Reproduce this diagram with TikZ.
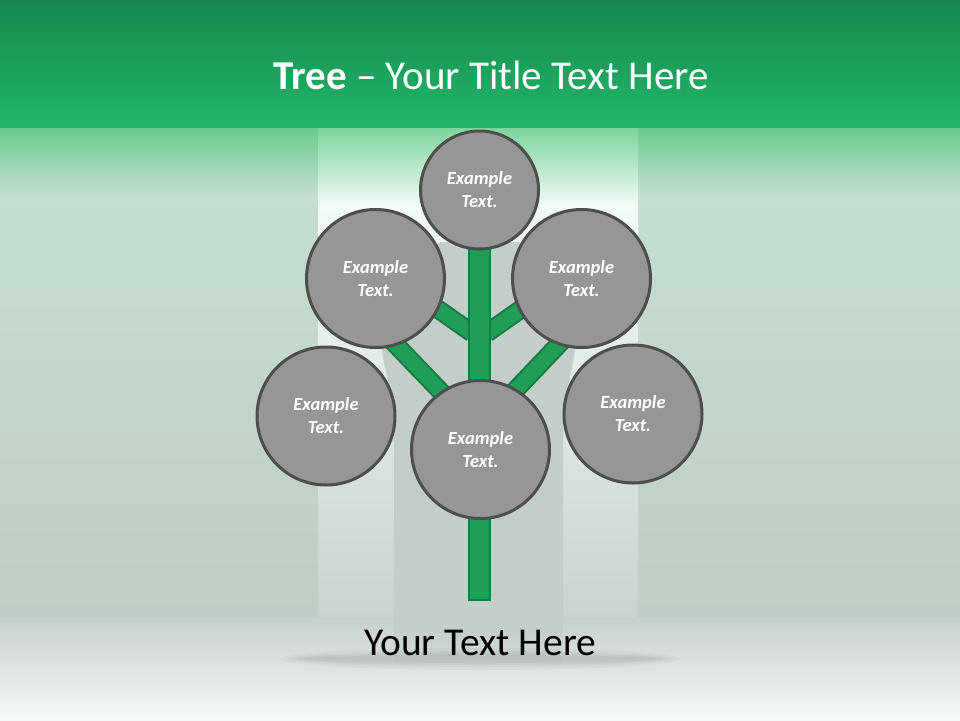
\documentclass[tikz,border=0pt]{standalone}
\usepackage{fontspec}
\setmainfont{Carlito}
\usetikzlibrary{fadings}
\definecolor{hdrtop}{RGB}{22,136,78}
\definecolor{hdrbot}{RGB}{34,182,106}
\definecolor{sidegreen}{RGB}{105,203,142}
\definecolor{sidetop}{RGB}{196,222,208}
\definecolor{sidebot}{RGB}{192,205,197}
\definecolor{midgreen}{RGB}{125,213,157}
\definecolor{midtop}{RGB}{242,250,245}
\definecolor{midbot}{RGB}{202,212,206}
\definecolor{bandtop}{RGB}{200,208,203}
\definecolor{bandbot}{RGB}{244,250,246}
\definecolor{trunkgray}{RGB}{196,205,199}
\definecolor{brgreen}{RGB}{31,158,88}
\definecolor{brdark}{RGB}{21,122,67}
\definecolor{bubblefill}{RGB}{150,150,150}
\definecolor{bubbleline}{RGB}{78,78,78}
\tikzfading[name=fadedown, top color=transparent!0, bottom color=transparent!100]
\tikzset{
  bubble/.style={circle, fill=bubblefill, draw=bubbleline, line width=3pt,
    inner sep=0pt, align=center, text=white,
    font=\fontsize{18.5}{23}\selectfont\bfseries\itshape},
  branch/.style={draw=brdark, line width=2pt, double=brgreen, double distance=15pt},
  trunkbox/.style={fill=brgreen, draw=brdark, line width=2pt}
}
\begin{document}
\begin{tikzpicture}[x=1pt,y=-1pt]
\useasboundingbox (0,0) rectangle (960,720);
% header
\shade[top color=hdrtop, bottom color=hdrbot] (0,0) rectangle (960,128);
% side panels
\shade[top color=sidegreen, bottom color=sidetop] (0,128) rectangle (318,195);
\shade[top color=sidegreen, bottom color=sidetop] (638,128) rectangle (960,195);
\shade[top color=sidetop, bottom color=sidebot] (0,195) rectangle (318,617);
\shade[top color=sidetop, bottom color=sidebot] (638,195) rectangle (960,617);
% center panel
\shade[top color=midgreen, bottom color=midtop] (318,128) rectangle (638,205);
\shade[top color=midtop, bottom color=midbot] (318,205) rectangle (638,617);
% bottom band
\shade[top color=bandtop, bottom color=bandbot] (0,617) rectangle (960,720);
% trunk shadow
\fill[trunkgray] (440,242) -- (376,300) .. controls (379,360) and (394,390) .. (394,430)
  -- (394,617) -- (563,617) -- (563,430) .. controls (563,390) and (578,360) .. (581,300)
  -- (519,242) -- cycle;
\fill[trunkgray, path fading=fadedown] (394,617) rectangle (563,664);
% ground shadow
\foreach \rx/\ry in {200/11,192/8,184/6,176/4}
  \fill[black, opacity=0.03] (480,659) ellipse [x radius=\rx, y radius=\ry];
% title
\node[font=\fontsize{41}{48}\selectfont, text=white] (title) at (491,75)
  {\textbf{Tree} -- Your Title Text Here};
% branch coordinates
\coordinate (ulA) at (472,333);
\coordinate (ulB) at (425,300);
\coordinate (urA) at (487,333);
\coordinate (urB) at (534,300);
\coordinate (llA) at (372,320);
\coordinate (llB) at (448,399);
\coordinate (lrA) at (582,320);
\coordinate (lrB) at (506,400);
\draw[branch] (ulA) -- (ulB);
\draw[branch] (urA) -- (urB);
\draw[branch] (llA) -- (llB);
\draw[branch] (lrA) -- (lrB);
% trunk
\draw[trunkbox] (469,240) rectangle (490,600);
% bubbles
\node[bubble, minimum size=118pt] (top) at (479.5,190) {Example\\Text.};
\node[bubble, minimum size=138pt] (ul) at (375.5,278.5) {Example\\Text.};
\node[bubble, minimum size=138pt] (ur) at (581.5,278.5) {Example\\Text.};
\node[bubble, minimum size=138pt] (ll) at (326,416) {Example\\Text.};
\node[bubble, minimum size=138pt] (lr) at (633,414) {Example\\Text.};
\node[bubble, minimum size=138pt] (mid) at (480.5,449.5) {Example\\Text.};
% bottom text
\node[font=\fontsize{39.5}{44}\selectfont, text=black] (foot) at (480,643) {Your Text Here};
\end{tikzpicture}
\end{document}
